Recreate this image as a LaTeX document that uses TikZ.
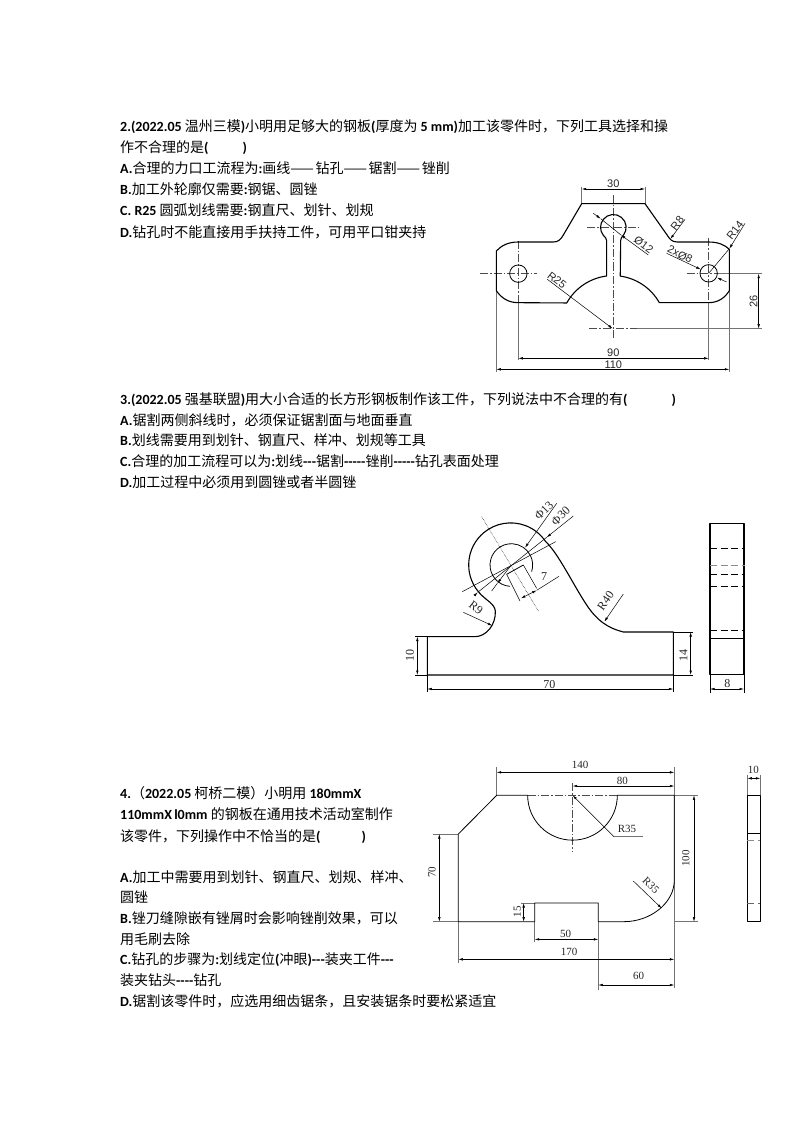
\documentclass[tikz,border=0pt]{standalone}
\usepackage{fontspec}
\setmainfont{Noto Sans CJK SC}
\newfontfamily\latn{Carlito}[BoldFont={Carlito Bold}]
\newfontfamily\dimsans{Liberation Sans}
\newfontfamily\dimserif{Liberation Serif}
\usetikzlibrary{arrows.meta}
\usetikzlibrary{calc}
\newcommand{\lat}[1]{{\latn\bfseries #1}}
\newcommand{\longdash}{——\hspace{1.7pt}}

\tikzset{
  qtext/.style={anchor=base west, inner sep=0pt, font=\fontsize{14}{16}\selectfont},
  part/.style={line width=1.1pt, line join=round},
  thinpart/.style={line width=0.8pt, line join=round},
  dimline/.style={<->, line width=0.5pt},
  leader/.style={line width=0.5pt},
  extline/.style={line width=0.5pt, black!55},
  centreline/.style={line width=0.5pt, black!70, dash pattern=on 8pt off 2pt on 1.5pt off 2pt},
  hidden/.style={line width=0.7pt, dash pattern=on 7pt off 3.5pt},
  sanstext/.style={inner sep=0pt, text=black!85, font=\dimsans\fontsize{11}{11}\selectfont},
  seriftext/.style={inner sep=0pt, text=black!85, font=\dimserif\fontsize{11}{11}\selectfont},
  bigserif/.style={seriftext, font=\dimserif\fontsize{12}{12}\selectfont},
  zoomed/.style={x=0.33333pt, y=-0.33333pt}
}

\begin{document}
\begin{tikzpicture}[x=1pt, y=-1pt, >={Latex[length=4.5pt,width=2.5pt]}]
  \useasboundingbox (0,0) rectangle (794,1123);

%%%%%%%%%%%% Question 2
  \node[qtext] (q2a) at (120,132) {\lat{2.(2022.05} 温州三模\lat{)}小明用足够大的钢板\lat{(}厚度为 \lat{5 mm)}加工该零件时，下列工具选择和操};
  \node[qtext] (q2b) at (120,153) {作不合理的是\lat{(}\hspace{34pt}\lat{)}};
  \node[qtext] (q2c) at (120,174) {\lat{A.}合理的力口工流程为\lat{:}画线\longdash 钻孔\longdash 锯割\longdash 锉削};
  \node[qtext] (q2d) at (120,195) {\lat{B.}加工外轮廓仅需要\lat{:}钢锯、圆锉};
  \node[qtext] (q2e) at (120,216) {\lat{C. R25} 圆弧划线需要\lat{:}钢直尺、划针、划规};
  \node[qtext] (q2f) at (120,237) {\lat{D.}钻孔时不能直接用手扶持工件，可用平口钳夹持};

  \begin{scope}[xshift=470pt, yshift=-170pt, zoomed]
    % centre lines
    \draw[centreline] (30,311) -- (200,311);
    \draw[centreline] (650,311) -- (760,311);
    \draw[centreline] (145,212) -- (145,400);
    \draw[centreline] (716,205) -- (716,400);
    \draw[centreline] (430,75) -- (430,510);
    \draw[centreline] (352,172) -- (505,172);
    \draw[centreline] (358,476) -- (500,476);
    % extension lines
    \draw[extline] (500,476) -- (875,476);
    \draw[extline] (745,311) -- (875,311);
    \draw[extline] (335,50) -- (335,101);
    \draw[extline] (525,50) -- (525,101);
    \draw[extline] (145,400) -- (145,570);
    \draw[extline] (716,400) -- (716,570);
    \draw[extline] (79,362) -- (79,605);
    \draw[extline] (778,362) -- (778,605);
    % outline
    \draw[part] (335,101) -- (525,101) -- (592,196)
      .. controls (600,208) and (606,216) .. (622,216) -- (716,216)
      .. controls (745,216) and (765,225) .. (778,238) -- (778,362)
      .. controls (765,383) and (745,398) .. (716,398) -- (568,398)
      arc[start angle=29.5, end angle=82.1, radius=53.33pt]
      -- (452,212) .. controls (452,205) and (455,202) .. (460,196)
      arc[start angle=-38.7, end angle=218.7, radius=12.8pt]
      .. controls (405,202) and (410,205) .. (410,212) -- (410,318)
      arc[start angle=97.2, end angle=150.9, radius=53.33pt]
      -- (145,398) .. controls (115,398) and (95,385) .. (79,362) -- (79,243)
      .. controls (95,226) and (115,216) .. (145,216) -- (250,216)
      .. controls (266,216) and (272,208) .. (280,195) -- cycle;
    \draw[thinpart] (145,311) circle[radius=8.7pt];
    \draw[thinpart] (716,310) circle[radius=8.7pt];
    % dimensions
    \draw[dimline] (335,57) -- (525,57);
    \draw[dimline] (866,311) -- (866,476);
    \draw[dimline] (145,565) -- (716,565);
    \draw[dimline] (79,598) -- (778,598);
    \draw[leader,<-] (601,207) -- (645,148);
    \draw[leader,<-] (778,236) -- (825,160);
    \draw[leader] (716,310) -- (778,236);
    \draw[leader,->] (232,328) -- (428,476);
    \draw[leader,<-] (392,146) -- (370,130);
    \draw[leader,<-] (453,195) -- (535,255);
    \draw[leader] (392,146) -- (453,195);
    \draw[leader,->] (590,250) -- (692,298);
    \draw[leader,<-] (741,323) -- (770,336);
    \node[sanstext] (dimBarTop) at (430,41) {30};
    \node[sanstext, rotate=90] (dimHoleDrop) at (851,393) {26};
    \node[sanstext] (dimHoleSpan) at (430,548) {90};
    \node[sanstext] (dimTotal) at (430,583) {110};
    \node[sanstext, rotate=52] (dimFillet) at (622,160) {R8};
    \node[sanstext, rotate=52] (dimEnd) at (795,181) {R14};
    \node[sanstext, rotate=-38] (dimArc) at (261,331) {R25};
    \node[sanstext, rotate=-37] (dimTop) at (521,224) {Ø12};
    \node[sanstext, rotate=-27] (dimHoles) at (630,253) {2xØ8};
  \end{scope}

%%%%%%%%%%%% Question 3
  \node[qtext] (q3a) at (120,404) {\lat{3.(2022.05} 强基联盟\lat{)}用大小合适的长方形钢板制作该工件，下列说法中不合理的有\lat{(}\hspace{44pt}\lat{)}};
  \node[qtext] (q3b) at (120,425) {\lat{A.}锯割两侧斜线时，必须保证锯割面与地面垂直};
  \node[qtext] (q3c) at (120,445) {\lat{B.}划线需要用到划针、钢直尺、样冲、划规等工具};
  \node[qtext] (q3d) at (120,466) {\lat{C.}合理的加工流程可以为\lat{:}划线\lat{---}锯割\lat{-----}锉削\lat{-----}钻孔表面处理};
  \node[qtext] (q3e) at (120,487) {\lat{D.}加工过程中必须用到圆锉或者半圆锉};

  \begin{scope}[xshift=410pt, yshift=-505pt, zoomed]
    % front view
    \draw[part] (52,395) -- (195,395)
      .. controls (228,395) and (258,360) .. (256,318)
      .. controls (254,295) and (225,285) .. (205,260)
      arc[start angle=219.6, end angle=33.8, radius=42pt]
      .. controls (445,145) and (490,240) .. (530,300)
      .. controls (560,345) and (590,368) .. (640,381)
      -- (790,381) -- (790,510) -- (52,510) -- cycle;
    \draw[thinpart] (300,244) arc[start angle=266.4, end angle=-18, radius=21.33pt];
    \draw[thinpart] (290,208) -- (340,180);
    \draw[leader] (340,180) -- (380,250);
    \draw[leader] (290,208) -- (330,288);
    \draw[leader, densely dotted] (215,35) -- (385,318);
    \draw[leader] (157,260) -- (437,110);
    % dimensions
    \draw[leader,<-] (203,262) -- (195,270);
    \draw[leader,<-] (410,97) -- (490,33);
    \draw[leader] (203,262) -- (410,97);
    \draw[leader,->] (440,-5) -- (345,128);
    \draw[leader,->] (304,180) -- (262,235);
    \draw[leader] (262,235) -- (245,258);
    \draw[dimline] (333,280) -- (380,256);
    \draw[leader] (380,256) -- (447,214);
    \draw[leader,->] (160,322) -- (247,362);
    \draw[leader,->] (640,267) -- (583,350);
    \draw[dimline] (22,395) -- (22,510);
    \draw[leader] (15,395) -- (52,395);
    \draw[leader] (15,510) -- (52,510);
    \draw[dimline] (842,381) -- (842,510);
    \draw[leader] (790,381) -- (850,381);
    \draw[leader] (790,510) -- (850,510);
    \draw[dimline] (52,552) -- (790,552);
    \draw[leader] (52,510) -- (52,562);
    \draw[leader] (790,510) -- (790,562);
    \node[bigserif, rotate=45] (dimBore) at (402,16) {Φ13};
    \node[bigserif, rotate=45] (dimBoss) at (452,33) {Φ30};
    \node[bigserif] (dimSlot) at (402,215) {7};
    \node[bigserif, rotate=-38] (dimNeck) at (198,308) {R9};
    \node[bigserif, rotate=55] (dimFlank) at (587,288) {R40};
    \node[bigserif, rotate=90] (dimLow) at (0,452) {10};
    \node[bigserif, rotate=90] (dimHigh) at (820,450) {14};
    \node[bigserif] (dimLength) at (418,538) {70};
    % side view
    \begin{scope}[xshift=285pt, yshift=-10pt]
      \draw[part] (45,25) rectangle (147,478);
      \draw[thinpart] (45,370) -- (147,370);
      \foreach \y in {100,178,214,346} {
        \draw[hidden] (45,\y) -- (150,\y);
      }
      \draw[hidden, black!45] (45,152) -- (150,152);
      \draw[dimline] (45,522) -- (147,522);
      \draw[leader] (45,478) -- (45,535);
      \draw[leader] (147,478) -- (147,535);
      \node[bigserif] (dimThick) at (97,506) {8};
    \end{scope}
  \end{scope}

%%%%%%%%%%%% Question 4
  \node[qtext] (q4a) at (120,798) {\lat{4.}（\lat{2022.05} 柯桥二模）小明用 \lat{180mmX}};
  \node[qtext] (q4b) at (120,819) {\lat{110mmX\,l0mm} 的钢板在通用技术活动室制作};
  \node[qtext] (q4c) at (120,841) {该零件，下列操作中不恰当的是\lat{(}\hspace{41pt}\lat{)}};
  \node[qtext] (q4d) at (120,882) {\lat{A.}加工中需要用到划针、钢直尺、划规、样冲、};
  \node[qtext] (q4e) at (120,902) {圆锉};
  \node[qtext] (q4f) at (120,923) {\lat{B.}锉刀缝隙嵌有锉屑时会影响锉削效果，可以};
  \node[qtext] (q4g) at (120,944) {用毛刷去除};
  \node[qtext] (q4h) at (120,964) {\lat{C.}钻孔的步骤为\lat{:}划线定位\lat{(}冲眼\lat{)---}装夹工件\lat{---}};
  \node[qtext] (q4i) at (120,985) {装夹钻头\lat{----}钻孔};
  \node[qtext] (q4j) at (120,1006) {\lat{D.}锯割该零件时，应选用细齿锯条，且安装锯条时要松紧适宜};

  \begin{scope}[xshift=420pt, yshift=-755pt, zoomed]
    % extension lines
    \draw[extline] (763,37) -- (763,700);
    \draw[extline] (763,121) -- (835,121);
    \draw[extline] (763,500) -- (835,500);
    \draw[extline] (40,237) -- (115,237);
    \draw[extline] (40,500) -- (115,500);
    \draw[extline] (115,500) -- (115,625);
    \draw[extline] (230,37) -- (230,121);
    \draw[extline] (344,500) -- (344,562);
    \draw[extline] (535,500) -- (535,705);
    \draw[extline] (303,444) -- (344,444);
    \draw[centreline] (458,85) -- (458,290);
    \draw[centreline] (323,121) -- (592,121);
    % outline
    \draw[thinpart] (230,121) -- (323,121)
      arc[start angle=180, end angle=360, radius=44.83pt]
      -- (763,121) -- (763,375)
      .. controls (763,445) and (690,500) .. (612,500)
      -- (535,500) -- (535,444) -- (344,444) -- (344,500) -- (115,500)
      -- (115,237) -- cycle;
    % dimensions
    \draw[dimline] (230,52) -- (763,52);
    \draw[dimline] (458,93) -- (763,93);
    \draw[dimline] (822,121) -- (822,500);
    \draw[dimline] (58,237) -- (58,500);
    \draw[dimline] (311,444) -- (311,500);
    \draw[dimline] (344,553) -- (535,553);
    \draw[dimline] (115,613) -- (763,613);
    \draw[dimline] (535,690) -- (763,690);
    \draw[leader,<-] (458,121) -- (582,245);
    \draw[extline] (582,245) -- (670,245);
    \draw[leader,->] (640,378) -- (725,460);
    \node[seriftext] (dimWidth) at (480,30) {140};
    \node[seriftext] (dimCut) at (607,78) {80};
    \node[seriftext, rotate=90] (dimHeight) at (797,310) {100};
    \node[seriftext, rotate=90] (dimLeft) at (36,352) {70};
    \node[seriftext, rotate=90] (dimNotch) at (292,470) {15};
    \node[seriftext] (dimNotchW) at (437,536) {50};
    \node[seriftext] (dimSpan) at (447,592) {170};
    \node[seriftext] (dimOff) at (656,663) {60};
    \node[seriftext] (dimSemi) at (621,221) {R35};
    \node[seriftext, rotate=-45] (dimCorner) at (693,392) {R35};
    % side view
    \draw[thinpart] (982,121) rectangle (1021,500);
    \draw[thinpart] (982,236) -- (1021,236);
    \draw[hidden, black!45] (982,255) -- (1021,255);
    \draw[hidden, black!60] (982,445) -- (1021,445);
    \draw[dimline] (982,70) -- (1021,70);
    \draw[extline] (982,60) -- (982,121);
    \draw[extline] (1021,60) -- (1021,121);
    \node[seriftext] (dimPlate) at (1000,46) {10};
  \end{scope}
\end{tikzpicture}
\end{document}
